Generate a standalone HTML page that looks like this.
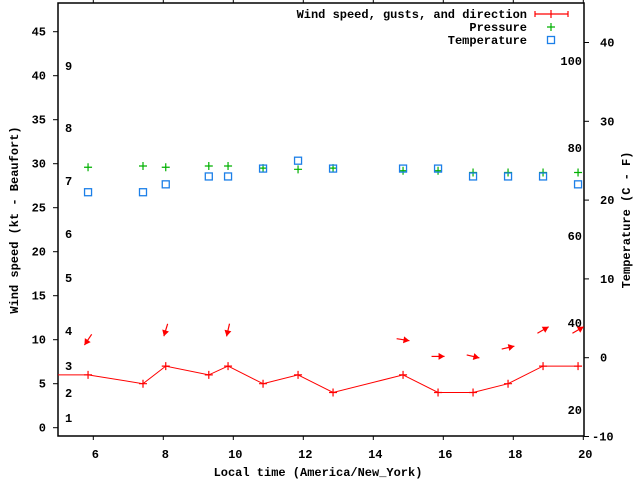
<!DOCTYPE html>
<html><head><meta charset="utf-8"><style>
html,body{margin:0;padding:0;background:#fff;}
svg{display:block;font-family:"Liberation Mono","DejaVu Sans Mono",monospace;font-weight:bold;font-size:12px;}
</style></head><body>
<svg id="chart" width="640" height="480" xmlns="http://www.w3.org/2000/svg">
<rect width="640" height="480" fill="#fff"/>
<g id="axes"></g><g id="marks"></g><g id="legend"></g>
</svg>
<script>
const times=[5.85,7.42,8.07,9.3,9.85,10.85,11.85,12.85,14.85,15.85,16.85,17.85,18.85,19.85];
const windSpeed=[6,5,7,6,7,5,6,4,6,4,4,5,7,7];
const pressure=[29.6,29.74,29.6,29.74,29.74,29.5,29.36,29.5,29.2,29.2,29.0,29.0,29.0,29.0];
const tempC=[21,21,22,23,23,24,25,24,24,24,23,23,23,22];
const arrowTimes=[5.85,8.07,9.85,14.85,15.85,16.85,17.85,18.85,19.85];
const arrowLevel=[10,11.1,11.1,10,8.1,8.1,9.1,11.1,11.1];
const arrowBearing=[214,197,193,99,90,103,77,60,60];
const xTicks=[6,8,10,12,14,16,18,20];
const yTicks=[0,5,10,15,20,25,30,35,40,45];
const y2Ticks=[-10,0,10,20,30,40];
const beaufort=[[1,418],[2,393],[3,366],[4,331],[5,278],[6,234],[7,181],[8,128],[9,66]];
const fahr=[[100,61],[80,148],[60,236],[40,323],[20,410]];

const L=58,R=584,T=3,B=436;
const X=t=>58.3+(t-5)*35.0;
const Y=v=>427.7-v*8.8;
const Y2=c=>357.7-c*7.88;
const NS="http://www.w3.org/2000/svg";
function mk(tag,attrs,parent,text){const e=document.createElementNS(NS,tag);for(const k in attrs)e.setAttribute(k,attrs[k]);if(text!==undefined)e.textContent=text;parent.appendChild(e);return e;}
const ax=document.getElementById('axes'),mg=document.getElementById('marks'),lg=document.getElementById('legend');

let e=mk('rect',{x:L,y:T,width:R-L,height:B-T,fill:'none',stroke:'#000','stroke-width':1.5},ax);


xTicks.forEach(t=>{
 mk('line',{x1:X(t),y1:B,x2:X(t),y2:B+4,stroke:'#000'},ax);
 mk('line',{x1:X(t),y1:T,x2:X(t),y2:T-4,stroke:'#000'},ax);
 const tx=mk('text',{x:X(t)+2,y:458,'text-anchor':'middle'},ax,String(t));
 
 
});
yTicks.forEach(v=>{
 mk('line',{x1:L-5,y1:Y(v),x2:L,y2:Y(v),stroke:'#000'},ax);
 const tx=mk('text',{x:L-12,y:Y(v)+4,'text-anchor':'end'},ax,String(v));
 
 
});
y2Ticks.forEach(c=>{
 mk('line',{x1:R,y1:Y2(c),x2:R+5,y2:Y2(c),stroke:'#000'},ax);
 const tx=mk('text',{x:R+8+(c<0?0:8),y:Y2(c)+4,'text-anchor':'start'},ax,String(c));
 
 
});
beaufort.forEach(([b,y])=>{
 const tx=mk('text',{x:65,y:y+4},ax,String(b));
 
 
});
fahr.forEach(([f,y])=>{
 const tx=mk('text',{x:582,y:y+4,'text-anchor':'end'},ax,String(f));
 
 
});
e=mk('text',{x:318,y:476,'text-anchor':'middle'},ax,'Local time (America/New_York)');


e=mk('text',{x:0,y:0,'text-anchor':'middle',transform:'translate(18,220) rotate(-90)'},ax,'Wind speed (kt - Beaufort)');


e=mk('text',{x:0,y:0,'text-anchor':'middle',transform:'translate(630,220) rotate(-90)'},ax,'Temperature (C - F)');



// wind line
let pts=[[L,Y(windSpeed[0])]].concat(times.map((t,i)=>[X(t),Y(windSpeed[i])]));
e=mk('polyline',{points:pts.map(p=>p.join(',')).join(' '),fill:'none',stroke:'#f00','stroke-width':1},mg);


function plus(x,y,c,name){const g=mk('path',{d:`M${x-4},${y}h8M${x},${y-4}v8`,stroke:c,'stroke-width':1.2,fill:'none'},mg);return g;}
times.forEach((t,i)=>plus(X(t),Y(windSpeed[i]),'#f00','wind-point'));
pressure.forEach((p,i)=>plus(X(times[i]),Y(p),'#00b000','pressure-point'));
tempC.forEach((c,i)=>{
 const s=mk('rect',{x:X(times[i])-3.5,y:Y2(c)-3.5,width:7,height:7,fill:'none',stroke:'#1c7fe8','stroke-width':1.3},mg);
 
 
});
arrowTimes.forEach((t,i)=>{
 const a=arrowBearing[i]*Math.PI/180,dx=Math.sin(a),dy=-Math.cos(a);
 const cx=X(t),cy=Y(arrowLevel[i]),len=13;
 const x1=cx-dx*len/2,y1=cy-dy*len/2,x2=cx+dx*len/2,y2=cy+dy*len/2;
 const px=-dy,py=dx,h=6,w=3.5;
 const g=mk('g',{},mg);
 
 
 mk('line',{x1:x1,y1:y1,x2:x2,y2:y2,stroke:'#f00','stroke-width':1.2},g);
 mk('polygon',{points:`${x2},${y2} ${x2-dx*h+px*w},${y2-dy*h+py*w} ${x2-dx*h-px*w},${y2-dy*h-py*w}`,fill:'#f00'},g);
});

// legend
const legNames=['Wind speed, gusts, and direction','Pressure','Temperature'];
const legY=[14,27,40];
legNames.forEach((n,i)=>{
 const tx=mk('text',{x:527,y:legY[i]+4,'text-anchor':'end'},lg,n);
 
 
});
e=mk('path',{d:'M535,14h33M535,11v6M568,11v6M551,10v8',stroke:'#f00','stroke-width':1.2,fill:'none'},lg);


e=mk('path',{d:'M547,27h8M551,23v8',stroke:'#00b000','stroke-width':1.2,fill:'none'},lg);


e=mk('rect',{x:547.5,y:36.5,width:7,height:7,fill:'none',stroke:'#1c7fe8','stroke-width':1.3},lg);


</script>
</body></html>
